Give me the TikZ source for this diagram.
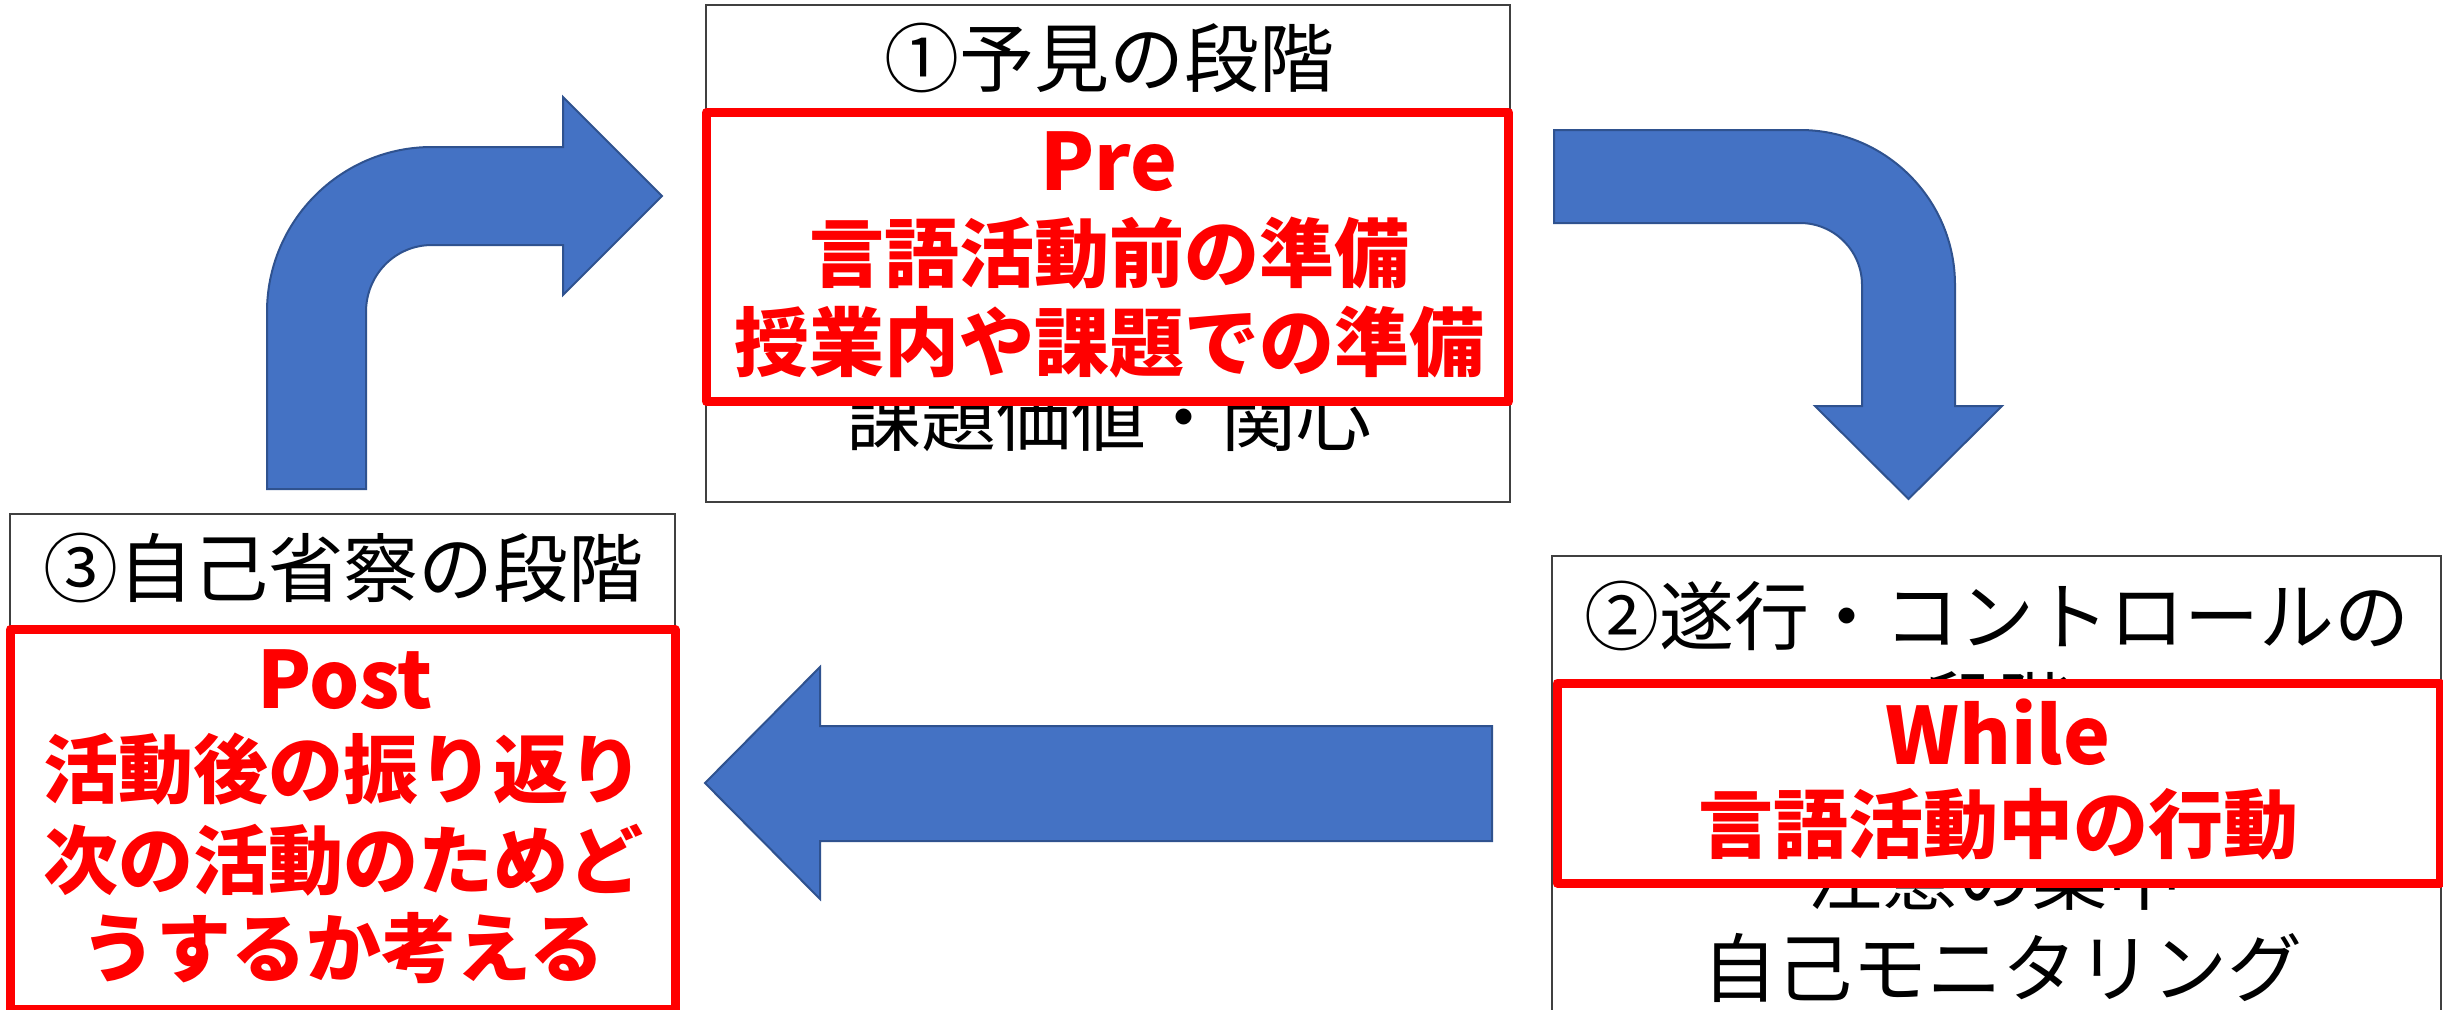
\documentclass[tikz,border=0pt]{standalone}
\usepackage{fontspec}
\newfontfamily\jp{Noto Sans CJK JP}
\definecolor{arrowblue}{HTML}{4472C4}
\definecolor{arrowedge}{HTML}{2F528F}
\definecolor{notered}{HTML}{FF0000}
\begin{document}
\begin{tikzpicture}[x=1pt,y=-1pt,
  stagebox/.style={draw=black!75, line width=1.5pt, fill=white},
  notebox/.style={draw=notered, line width=9pt, fill=white, line join=round},
  bigarrow/.style={fill=arrowblue, draw=arrowedge, line width=2pt, line join=miter},
  blacktext/.style={font=\jp\fontsize{75}{90}\selectfont, inner sep=0pt, text=black},
  redtext/.style={font=\jp\bfseries\fontsize{75}{90}\selectfont, inner sep=0pt, text=notered},
  redlatin/.style={font=\jp\bfseries\fontsize{79}{90}\selectfont, inner sep=0pt, text=notered}]
\useasboundingbox (0,0) rectangle (2443,1009);
\clip (0,0) rectangle (2443,1009);

% ---- stage boxes (black) ----
\draw[stagebox] (706,5) rectangle (1510,502);
\draw[stagebox] (10,514) rectangle (675,1030);
\draw[stagebox] (1552,556) rectangle (2441,1030);

% ---- black texts ----
\node[blacktext] (t1a) at (1109,58) {①予見の段階};
\node[blacktext] (t1b) at (1109,417) {課題価値・関心};
\node[blacktext] (t3a) at (343,568) {③自己省察の段階};
\node[blacktext] (t2a) at (1997,616) {②遂行・コントロールの};
\node[blacktext] (t2b) at (1997,706) {段階};
\node[blacktext] (t2c) at (1995,876) {注意の集中};
\node[blacktext] (t2d) at (2002,968) {自己モニタリング};

% ---- arrows ----
\draw[bigarrow] (267,489) -- (267,312)
  .. controls (267,220.9) and (340.9,147) .. (432,147)
  -- (563,147) -- (563,97) -- (662,196) -- (563,295) -- (563,245) -- (432,245)
  .. controls (395,245) and (366,275) .. (366,312)
  -- (366,489) -- cycle;
\draw[bigarrow] (1554,130) -- (1800,130)
  .. controls (1885.6,130) and (1955,199.4) .. (1955,285)
  -- (1955,406) -- (2002,406) -- (1908.5,499) -- (1815,406) -- (1862,406) -- (1862,285)
  .. controls (1862,250.8) and (1834.2,223) .. (1800,223)
  -- (1554,223) -- cycle;
\draw[bigarrow] (1492,726) -- (820,726) -- (820,667) -- (705,783) -- (820,899)
  -- (820,841) -- (1492,841) -- cycle;

% ---- red note boxes ----
\draw[notebox] (706.5,112.5) rectangle (1508.5,401.5);
\draw[notebox] (10.5,629.5) rectangle (675,1009);
\draw[notebox] (1557,683) rectangle (2440,883);

% ---- red texts ----
\node[redlatin] (pre) at (1109,162) {Pre};
\node[redtext] (pre1) at (1109,253.5) {言語活動前の準備};
\node[redtext] (pre2) at (1109,342.5) {授業内や課題での準備};

\node[redlatin] (post) at (345,680) {Post};
\node[redtext] (post1) at (343,769) {活動後の振り返り};
\node[redtext] (post2) at (343,860) {次の活動のためど};
\node[redtext] (post3) at (343,948) {うするか考える};

\node[redlatin] (while) at (1998,732.5) {While};
\node[redtext] (while1) at (1998,824.5) {言語活動中の行動};
\end{tikzpicture}
\end{document}
